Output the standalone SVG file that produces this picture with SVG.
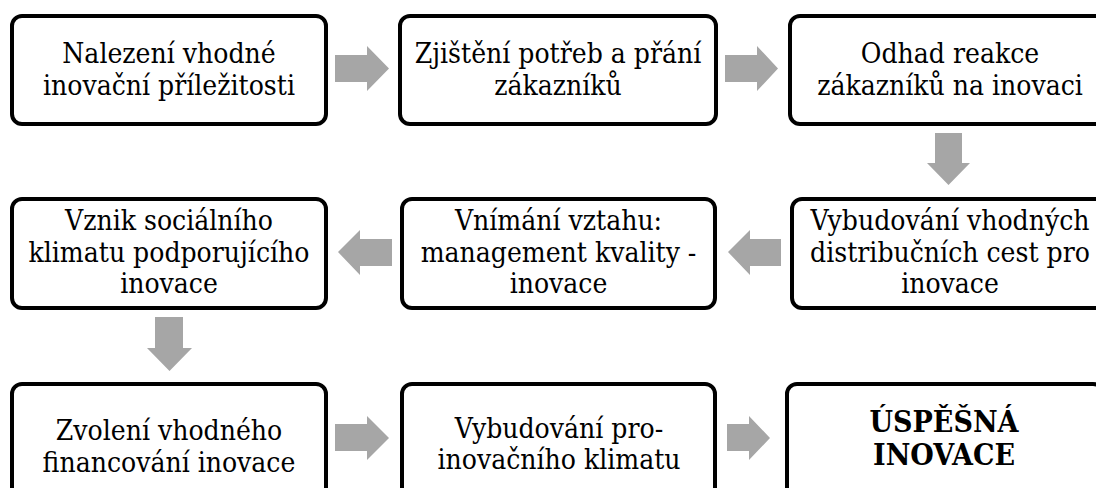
<svg xmlns="http://www.w3.org/2000/svg" width="1096" height="488" viewBox="0 0 1096 488">
  <style>
    .box { fill: #ffffff; stroke: #000000; stroke-width: 4; }
    .lbl { font-family: "DejaVu Serif Condensed", "DejaVu Serif", "Liberation Serif", serif; font-size: 28px; fill: #000000; text-anchor: middle; }
    .strong { font-weight: bold; font-size: 30px; }
    .arrow { fill: #a6a6a6; stroke: none; }
  </style>
  <rect width="1096" height="488" fill="#ffffff"/>

  <!-- row 1 -->
  <g id="n1">
    <rect class="box" x="12" y="16" width="314" height="108" rx="10"/>
    <text class="lbl" x="169" y="63">Nalezení vhodné</text>
    <text class="lbl" x="169" y="94.5">inovační příležitosti</text>
  </g>
  <g id="n2">
    <rect class="box" x="400" y="16" width="316" height="108" rx="10"/>
    <text class="lbl" x="558" y="63">Zjištění potřeb a přání</text>
    <text class="lbl" x="558" y="94.5">zákazníků</text>
  </g>
  <g id="n3">
    <rect class="box" x="790" y="16" width="316" height="108" rx="10"/>
    <text class="lbl" x="950" y="63">Odhad reakce</text>
    <text class="lbl" x="950" y="94.5">zákazníků na inovaci</text>
  </g>

  <!-- row 2 -->
  <g id="n4">
    <rect class="box" x="12" y="199" width="314" height="109" rx="10"/>
    <text class="lbl" x="169" y="230">Vznik sociálního</text>
    <text class="lbl" x="169" y="262">klimatu podporujícího</text>
    <text class="lbl" x="169" y="293">inovace</text>
  </g>
  <g id="n5">
    <rect class="box" x="402" y="199" width="313" height="109" rx="10"/>
    <text class="lbl" x="558.5" y="230">Vnímání vztahu:</text>
    <text class="lbl" x="558.5" y="262">management kvality -</text>
    <text class="lbl" x="558.5" y="293">inovace</text>
  </g>
  <g id="n6">
    <rect class="box" x="792" y="199" width="316" height="109" rx="10"/>
    <text class="lbl" x="950" y="230">Vybudování vhodných</text>
    <text class="lbl" x="950" y="262">distribučních cest pro</text>
    <text class="lbl" x="950" y="293">inovace</text>
  </g>

  <!-- row 3 -->
  <g id="n7">
    <rect class="box" x="12" y="384" width="314" height="120" rx="10"/>
    <text class="lbl" x="169" y="440">Zvolení vhodného</text>
    <text class="lbl" x="169" y="472">financování inovace</text>
  </g>
  <g id="n8">
    <rect class="box" x="402" y="384" width="313" height="120" rx="10"/>
    <text class="lbl" x="559" y="438">Vybudování pro-</text>
    <text class="lbl" x="559" y="469">inovačního klimatu</text>
  </g>
  <g id="n9">
    <rect class="box" x="787" y="384" width="316" height="120" rx="10"/>
    <text class="lbl strong" x="944" y="432">ÚSPĚŠNÁ</text>
    <text class="lbl strong" x="944" y="465">INOVACE</text>
  </g>

  <!-- block arrows between steps -->
  <g id="connectors">
    <polygon class="arrow" points="335,55 367,55 367,46 389,68.5 367,91 367,82 335,82"/>
    <polygon class="arrow" points="725,55 757,55 757,46 778,68.5 757,91 757,82 725,82"/>
    <polygon class="arrow" points="935,133 962,133 962,163 970,163 948.5,185 927,163 935,163"/>
    <polygon class="arrow" points="728,252 750,230 750,239 781,239 781,266 750,266 750,275"/>
    <polygon class="arrow" points="338,252 360,230 360,239 392,239 392,266 360,266 360,275"/>
    <polygon class="arrow" points="155,317 183,317 183,348 192,348 169.5,371 147,348 155,348"/>
    <polygon class="arrow" points="335,424 367,424 367,416 389,438 367,460 367,451 335,451"/>
    <polygon class="arrow" points="727,424 749,424 749,416 770,438 749,460 749,451 727,451"/>
  </g>
</svg>
